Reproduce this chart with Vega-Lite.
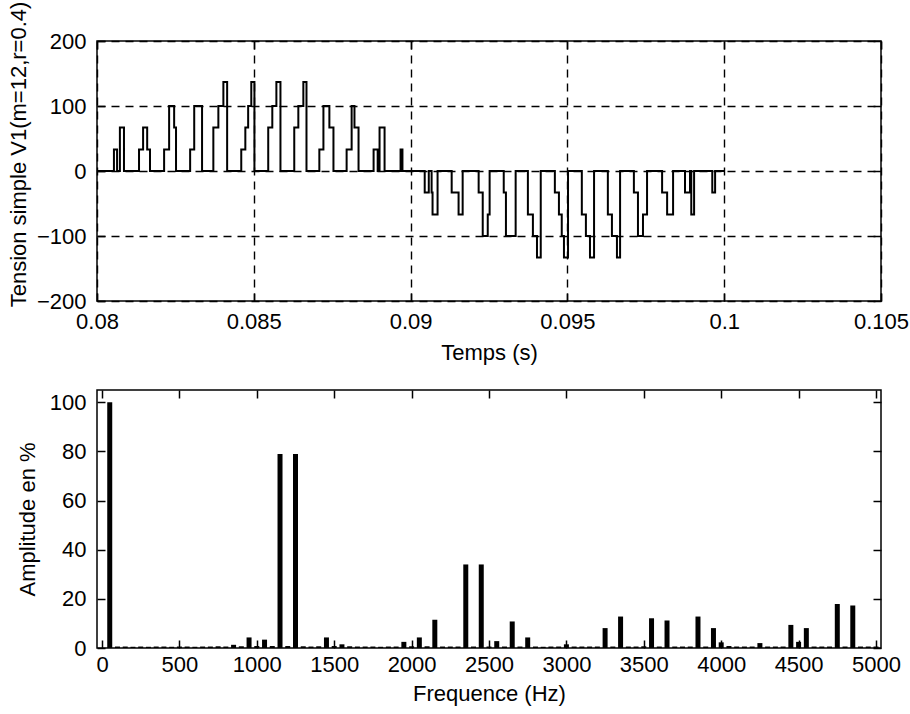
{
  "$schema": "https://vega.github.io/schema/vega-lite/v6.json",
  "background": "white",
  "padding": {"left": 6, "top": 0, "right": 2, "bottom": 5},
  "spacing": 24,
  "config": {
    "font": "Liberation Sans",
    "view": {"stroke": "black", "strokeWidth": 1.5},
    "axis": {
      "domain": false, "grid": false, "ticks": true, "tickColor": "black", "tickWidth": 1.5,
      "tickSize": -8, "labelPadding": 18, "labelFontSize": 22, "titleFontSize": 22,
      "labelColor": "black", "titleColor": "black", "titleFontWeight": "normal",
      "labelFont": "Liberation Sans", "titleFont": "Liberation Sans", "labelFlush": false
    }
  },
  "datasets": {
    "wave": [
      {"t": 0.08, "v": 0},
      {"t": 0.08054, "v": 33}, {"t": 0.08064, "v": 0}, {"t": 0.08073, "v": 67}, {"t": 0.08086, "v": 0},
      {"t": 0.08134, "v": 33}, {"t": 0.08147, "v": 67}, {"t": 0.08160, "v": 33}, {"t": 0.08169, "v": 0},
      {"t": 0.08214, "v": 33}, {"t": 0.08230, "v": 100}, {"t": 0.08246, "v": 67}, {"t": 0.08252, "v": 0},
      {"t": 0.08297, "v": 33}, {"t": 0.08310, "v": 100}, {"t": 0.08335, "v": 0},
      {"t": 0.08371, "v": 67}, {"t": 0.08387, "v": 100}, {"t": 0.08403, "v": 137}, {"t": 0.08415, "v": 0},
      {"t": 0.08460, "v": 33}, {"t": 0.08473, "v": 67}, {"t": 0.08482, "v": 100}, {"t": 0.08492, "v": 137}, {"t": 0.08502, "v": 0},
      {"t": 0.08546, "v": 67}, {"t": 0.08559, "v": 100}, {"t": 0.08572, "v": 137}, {"t": 0.08585, "v": 0},
      {"t": 0.08629, "v": 67}, {"t": 0.08642, "v": 100}, {"t": 0.08658, "v": 137}, {"t": 0.08668, "v": 0},
      {"t": 0.08709, "v": 33}, {"t": 0.08722, "v": 100}, {"t": 0.08741, "v": 67}, {"t": 0.08754, "v": 0},
      {"t": 0.08796, "v": 33}, {"t": 0.08812, "v": 100}, {"t": 0.08821, "v": 67}, {"t": 0.08834, "v": 0},
      {"t": 0.08882, "v": 33}, {"t": 0.08895, "v": 0}, {"t": 0.08901, "v": 67}, {"t": 0.08917, "v": 0},
      {"t": 0.08968, "v": 33}, {"t": 0.08974, "v": 0},
      {"t": 0.09045, "v": -33}, {"t": 0.09058, "v": 0}, {"t": 0.09067, "v": -33}, {"t": 0.09070, "v": -67}, {"t": 0.09086, "v": 0},
      {"t": 0.09131, "v": -33}, {"t": 0.09153, "v": -67}, {"t": 0.09166, "v": 0},
      {"t": 0.09217, "v": -33}, {"t": 0.09230, "v": -100}, {"t": 0.09246, "v": -67}, {"t": 0.09252, "v": 0},
      {"t": 0.09297, "v": -33}, {"t": 0.09304, "v": -100}, {"t": 0.09335, "v": 0},
      {"t": 0.09374, "v": -67}, {"t": 0.09390, "v": -100}, {"t": 0.09403, "v": -133}, {"t": 0.09415, "v": 0},
      {"t": 0.09460, "v": -33}, {"t": 0.09473, "v": -67}, {"t": 0.09482, "v": -100}, {"t": 0.09489, "v": -133}, {"t": 0.09502, "v": 0},
      {"t": 0.09546, "v": -67}, {"t": 0.09559, "v": -100}, {"t": 0.09572, "v": -133}, {"t": 0.09585, "v": 0},
      {"t": 0.09629, "v": -67}, {"t": 0.09642, "v": -100}, {"t": 0.09658, "v": -133}, {"t": 0.09668, "v": 0},
      {"t": 0.09712, "v": -33}, {"t": 0.09725, "v": -100}, {"t": 0.09741, "v": -67}, {"t": 0.09754, "v": 0},
      {"t": 0.09802, "v": -33}, {"t": 0.09818, "v": -67}, {"t": 0.09837, "v": 0},
      {"t": 0.09875, "v": -33}, {"t": 0.09891, "v": 0}, {"t": 0.09895, "v": -67}, {"t": 0.09904, "v": 0},
      {"t": 0.09962, "v": -33}, {"t": 0.09971, "v": 0},
      {"t": 0.1, "v": 0}
    ],
    "spec": [
      {"f": 50, "a": 100}, {"f": 100, "a": 0.6}, {"f": 150, "a": 0.6}, {"f": 200, "a": 0.5}, {"f": 250, "a": 0.6},
      {"f": 300, "a": 0.5}, {"f": 350, "a": 0.6}, {"f": 400, "a": 0.6}, {"f": 450, "a": 0.5}, {"f": 500, "a": 0.6},
      {"f": 550, "a": 0.6}, {"f": 600, "a": 0.5}, {"f": 650, "a": 0.6}, {"f": 700, "a": 0.6}, {"f": 750, "a": 0.7},
      {"f": 800, "a": 0.6}, {"f": 850, "a": 1.3}, {"f": 900, "a": 0.7}, {"f": 950, "a": 4.3}, {"f": 1000, "a": 0.8},
      {"f": 1050, "a": 3.4}, {"f": 1100, "a": 0.8}, {"f": 1150, "a": 79}, {"f": 1200, "a": 0.8}, {"f": 1250, "a": 79},
      {"f": 1300, "a": 0.7}, {"f": 1350, "a": 0.6}, {"f": 1400, "a": 0.7}, {"f": 1450, "a": 4.3}, {"f": 1500, "a": 0.8},
      {"f": 1550, "a": 1.5}, {"f": 1600, "a": 0.7}, {"f": 1650, "a": 0.6}, {"f": 1700, "a": 0.6}, {"f": 1750, "a": 0.6},
      {"f": 1800, "a": 0.5}, {"f": 1850, "a": 0.6}, {"f": 1900, "a": 0.6}, {"f": 1950, "a": 2.5}, {"f": 2000, "a": 0.7},
      {"f": 2050, "a": 4.3}, {"f": 2100, "a": 0.7}, {"f": 2150, "a": 11.5}, {"f": 2200, "a": 0.6}, {"f": 2250, "a": 0.6},
      {"f": 2300, "a": 0.6}, {"f": 2350, "a": 34}, {"f": 2400, "a": 0.6}, {"f": 2450, "a": 34}, {"f": 2500, "a": 0.6},
      {"f": 2550, "a": 2.8}, {"f": 2600, "a": 0.6}, {"f": 2650, "a": 10.8}, {"f": 2700, "a": 0.6}, {"f": 2750, "a": 4.3},
      {"f": 2800, "a": 0.6}, {"f": 2850, "a": 0.5}, {"f": 2900, "a": 0.6}, {"f": 2950, "a": 0.6}, {"f": 3000, "a": 1.5},
      {"f": 3050, "a": 0.6}, {"f": 3100, "a": 0.6}, {"f": 3150, "a": 0.6}, {"f": 3200, "a": 0.6}, {"f": 3250, "a": 8.1},
      {"f": 3300, "a": 0.6}, {"f": 3350, "a": 12.8}, {"f": 3400, "a": 0.6}, {"f": 3450, "a": 0.6}, {"f": 3500, "a": 0.7},
      {"f": 3550, "a": 12.1}, {"f": 3600, "a": 0.6}, {"f": 3650, "a": 11.2}, {"f": 3700, "a": 0.6}, {"f": 3750, "a": 0.6},
      {"f": 3800, "a": 0.6}, {"f": 3850, "a": 12.8}, {"f": 3900, "a": 0.6}, {"f": 3950, "a": 8.1}, {"f": 4000, "a": 2.3},
      {"f": 4050, "a": 0.8}, {"f": 4100, "a": 0.6}, {"f": 4150, "a": 0.6}, {"f": 4200, "a": 0.6}, {"f": 4250, "a": 2.0},
      {"f": 4300, "a": 0.6}, {"f": 4350, "a": 0.6}, {"f": 4400, "a": 0.6}, {"f": 4450, "a": 9.4}, {"f": 4500, "a": 2.5},
      {"f": 4550, "a": 8.1}, {"f": 4600, "a": 0.6}, {"f": 4650, "a": 0.6}, {"f": 4700, "a": 0.6}, {"f": 4750, "a": 17.9},
      {"f": 4800, "a": 0.6}, {"f": 4850, "a": 17.3}, {"f": 4900, "a": 0.6}, {"f": 4950, "a": 0.6}, {"f": 5000, "a": 0.6}
    ]
  },
  "vconcat": [
    {
      "width": 784, "height": 260,
      "data": {"name": "wave"},
      "layer": [
        {
          "mark": {"type": "line", "interpolate": "step-after", "color": "black", "strokeWidth": 2},
          "encoding": {
            "x": {"field": "t", "type": "quantitative",
                  "scale": {"domain": [0.08, 0.105], "nice": false, "zero": false},
                  "axis": {"values": [0.08, 0.085, 0.09, 0.095, 0.1, 0.105], "format": ".3~f", "title": "Temps (s)",
                           "labelPadding": 18, "titlePadding": 10,
                           "grid": true, "gridColor": "black", "gridDash": [8, 6], "gridWidth": 1.4, "gridOpacity": 1}},
            "y": {"field": "v", "type": "quantitative",
                  "scale": {"domain": [-200, 200], "nice": false},
                  "axis": {"values": [-200, -100, 0, 100, 200], "title": "Tension simple V1(m=12,r=0.4)",
                           "labelPadding": 19, "titlePadding": 6, "titleY": 113,
                           "grid": true, "gridColor": "black", "gridDash": [8, 6], "gridWidth": 1.4, "gridOpacity": 1}}
          }
        },
        {
          "mark": {"type": "point", "opacity": 0},
          "encoding": {
            "x": {"field": "t", "type": "quantitative", "axis": {"orient": "top", "labels": false, "title": null, "values": [0.08, 0.085, 0.09, 0.095, 0.1, 0.105]}},
            "y": {"field": "v", "type": "quantitative", "axis": {"orient": "right", "labels": false, "title": null, "values": [-200, -100, 0, 100, 200]}}
          }
        }
      ],
      "resolve": {"axis": {"x": "independent", "y": "independent"}}
    },
    {
      "width": 784, "height": 258,
      "data": {"name": "spec"},
      "layer": [
        {
          "mark": {"type": "bar", "size": 5, "color": "black"},
          "encoding": {
            "x": {"field": "f", "type": "quantitative",
                  "scale": {"domain": [0, 5000], "nice": false},
                  "axis": {"values": [0, 500, 1000, 1500, 2000, 2500, 3000, 3500, 4000, 4500, 5000], "format": "d", "title": "Frequence (Hz)",
                           "labelPadding": 14, "titlePadding": 8}},
            "y": {"field": "a", "type": "quantitative",
                  "scale": {"domain": [0, 105], "nice": false},
                  "axis": {"values": [0, 20, 40, 60, 80, 100], "title": "Amplitude en %", "labelPadding": 19, "titlePadding": 10}}
          }
        },
        {
          "mark": {"type": "point", "opacity": 0},
          "encoding": {
            "x": {"field": "f", "type": "quantitative", "axis": {"orient": "top", "labels": false, "title": null, "values": [0, 500, 1000, 1500, 2000, 2500, 3000, 3500, 4000, 4500, 5000]}},
            "y": {"field": "a", "type": "quantitative", "axis": {"orient": "right", "labels": false, "title": null, "values": [0, 20, 40, 60, 80, 100]}}
          }
        }
      ],
      "resolve": {"axis": {"x": "independent", "y": "independent"}}
    }
  ]
}
